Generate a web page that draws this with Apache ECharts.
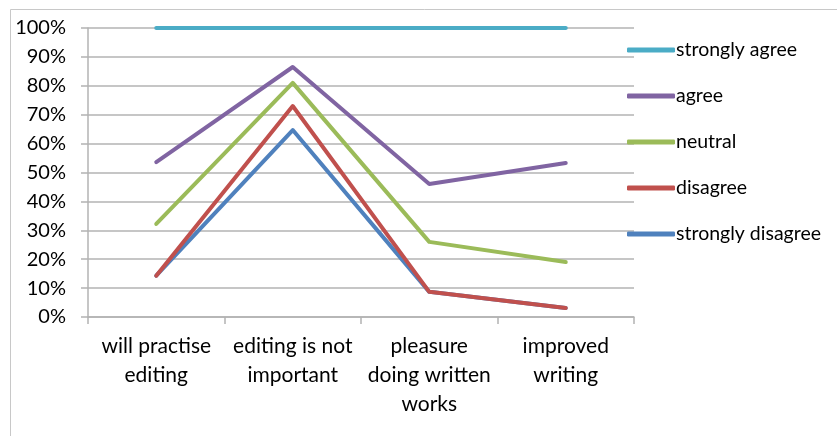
<!DOCTYPE html>
<html>
<head>
<meta charset="utf-8">
<script src="https://cdn.jsdelivr.net/npm/echarts@6/dist/echarts.min.js"></script>
<style>
  html, body { margin: 0; padding: 0; background: #fff; }
  #chart { width: 837px; height: 436px; }
</style>
</head>
<body>
<div id="chart"></div>
<script>
// categories on the x axis
var categories = ['will practise\nediting', 'editing is not\nimportant', 'pleasure\ndoing written\nworks', 'improved\nwriting'];
// share of answers per category (%), stacked bottom to top
var stronglyDisagree = [14.3, 64.7, 8.7, 3.1];
var disagree = [0, 8.3, 0, 0];
var neutral = [17.9, 8.0, 17.3, 15.9];
var agree = [21.4, 5.5, 20.0, 34.3];
var stronglyAgree = [46.4, 13.5, 54.0, 46.7];
var legendOrder = ['strongly agree', 'agree', 'neutral', 'disagree', 'strongly disagree'];

var font = 'Lato';
var gridColor = '#b3b3b3';

function lineSeries(name, values, color) {
  return {
    name: name,
    type: 'line',
    stack: 'total',
    data: values,
    symbol: 'none',
    color: color,
    lineStyle: { width: 4, color: color, cap: 'round', join: 'round' },
    animation: false
  };
}

var chart = echarts.init(document.getElementById('chart'));
chart.setOption({
  backgroundColor: '#fff',
  graphic: [{
    type: 'rect',
    shape: { x: 10.5, y: 9.5, width: 900, height: 500 },
    style: { fill: 'none', stroke: '#c8c8c8', lineWidth: 1 },
    silent: true
  }],
  grid: { left: 88, right: 203, top: 28, bottom: 119, containLabel: false },
  legend: {
    orient: 'vertical',
    left: 622,
    top: 34,
    itemWidth: 48,
    itemHeight: 5,
    itemGap: 24,
    icon: 'roundRect',
    data: legendOrder,
    textStyle: { fontFamily: font, fontSize: 19.5, color: '#000', padding: [0, 0, 0, -4], lineHeight: 22 }
  },
  xAxis: {
    type: 'category',
    data: categories,
    boundaryGap: true,
    axisLine: { show: true, lineStyle: { color: gridColor, width: 1.5 } },
    axisTick: { show: true, length: 7, lineStyle: { color: gridColor, width: 1.5 } },
    axisLabel: { fontFamily: font, fontSize: 21, color: '#000', lineHeight: 29, margin: 15, interval: 0 }
  },
  yAxis: {
    type: 'value',
    min: 0,
    max: 100,
    interval: 10,
    axisLine: { show: true, lineStyle: { color: gridColor, width: 1.5 } },
    axisTick: { show: true, length: 7, lineStyle: { color: gridColor, width: 1.5 } },
    splitLine: { show: true, lineStyle: { color: gridColor, width: 1.5 } },
    axisLabel: { formatter: '{value}%', fontFamily: font, fontSize: 20, color: '#000', margin: 22 }
  },
  series: [
    lineSeries('strongly disagree', stronglyDisagree, '#4f81bd'),
    lineSeries('disagree', disagree, '#c0504d'),
    lineSeries('neutral', neutral, '#9bbb59'),
    lineSeries('agree', agree, '#8064a2'),
    lineSeries('strongly agree', stronglyAgree, '#4bacc6')
  ]
});
</script>
</body>
</html>
